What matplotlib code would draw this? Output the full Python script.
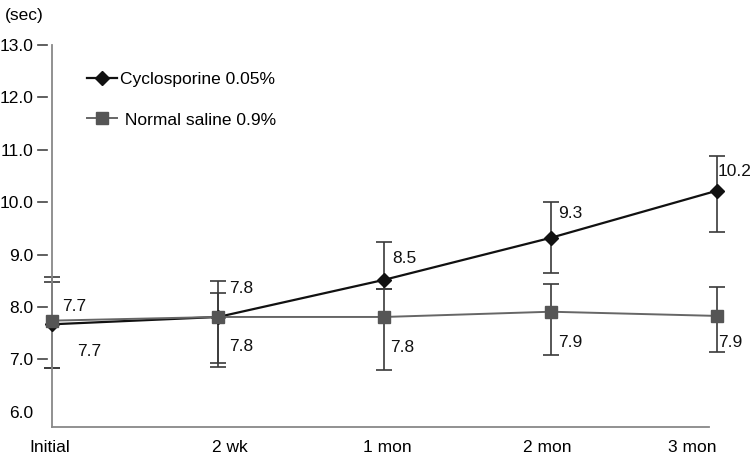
import matplotlib
matplotlib.use("Agg")
import matplotlib.pyplot as plt
import matplotlib.transforms as mtransforms
import numpy as np

# data
time_points = ["Initial", "2 wk", "1 mon", "2 mon", "3 mon"]
cyclo_mean = [7.67, 7.81, 8.52, 9.32, 10.22]
saline_mean = [7.74, 7.81, 7.81, 7.91, 7.83]
cyclo_low = [6.84, 6.86, 8.35, 8.65, 9.44]
cyclo_high = [8.58, 8.50, 9.24, 10.00, 10.89]
saline_low = [6.84, 6.94, 6.80, 7.09, 7.14]
saline_high = [8.48, 8.27, 8.35, 8.44, 8.39]
cyclo_labels = ["7.7", "7.8", "8.5", "9.3", "10.2"]
saline_labels = ["7.7", "7.8", "7.8", "7.9", "7.9"]
y_ticks = [6.0, 7.0, 8.0, 9.0, 10.0, 11.0, 12.0, 13.0]

plt.rcParams["font.family"] = ["Liberation Sans", "DejaVu Sans"]
FS = 12.5

fig = plt.figure(figsize=(7.52, 4.57), dpi=100)
ax = fig.add_axes([0.069, 0.0656, 0.8845, 0.836])

x = np.arange(len(time_points))
cyclo_mean = np.array(cyclo_mean)
saline_mean = np.array(saline_mean)

err_kw = dict(fmt="none", ecolor="#3a3a3a", elinewidth=1.2, capsize=6, capthick=1.2)
ax.errorbar(x, cyclo_mean,
            yerr=[cyclo_mean - np.array(cyclo_low), np.array(cyclo_high) - cyclo_mean],
            clip_on=False, zorder=2, **err_kw)
ax.errorbar(x, saline_mean,
            yerr=[saline_mean - np.array(saline_low), np.array(saline_high) - saline_mean],
            clip_on=False, zorder=2, **err_kw)

ax.plot(x, cyclo_mean, color="#111111", lw=1.6, marker="D", ms=7,
        mfc="#111111", mec="#111111", clip_on=False, zorder=3,
        label="Cyclosporine 0.05%")
ax.plot(x, saline_mean, color="#666666", lw=1.4, marker="s", ms=8,
        mfc="#555555", mec="#555555", clip_on=False, zorder=4,
        label=" Normal saline 0.9%")

# value labels (offsets in pixels from the point)
cyclo_off = [(10, 18), (11, 28), (8, 21), (7, 24), (1, 19)]
saline_off = [(25, -31), (11, -30), (6, -31), (7, -31), (1, -27)]
for i in range(len(x)):
    ax.annotate(cyclo_labels[i], (x[i], cyclo_mean[i]), xytext=cyclo_off[i],
                textcoords="offset pixels", ha="left", va="center",
                fontsize=FS, color="#111111", annotation_clip=False)
    ax.annotate(saline_labels[i], (x[i], saline_mean[i]), xytext=saline_off[i],
                textcoords="offset pixels", ha="left", va="center",
                fontsize=FS, color="#111111", annotation_clip=False)

ax.set_xlim(0, 4)
ax.set_ylim(5.71, 13.0)
ax.set_xticks(x)
ax.set_xticklabels(time_points, fontsize=FS)
ax.tick_params(axis="x", length=0, pad=9)
# the category labels sit a little off their points in the original
label_shift = [-2, 12, 3, -3, -25]
for lab, dx in zip(ax.get_xticklabels(), label_shift):
    lab.set_transform(lab.get_transform()
                      + mtransforms.ScaledTranslation(dx / 100, 0, fig.dpi_scale_trans))

ax.set_yticks(y_ticks)
ax.set_yticklabels([f"{v:.1f}" for v in y_ticks], fontsize=FS)
ax.tick_params(axis="y", length=0, pad=13.5)
# short dashes next to the labels, detached from the axis line
trans = mtransforms.blended_transform_factory(ax.transAxes, ax.transData)
for v in y_ticks[1:]:
    ax.plot([-14 / 665, -5 / 665], [v, v], color="#444444", lw=1.2,
            transform=trans, clip_on=False)

for side in ["top", "right"]:
    ax.spines[side].set_visible(False)
for side in ["left", "bottom"]:
    ax.spines[side].set_color("#888888")
    ax.spines[side].set_linewidth(1.3)
ax.spines["bottom"].set_bounds(0, 3.95)

ax.legend(loc="upper left", bbox_to_anchor=(0.03, 0.97), frameon=False,
          fontsize=FS, handlelength=1.7, handletextpad=0.2, labelspacing=1.45)

fig.text(0.007, 0.965, "(sec)", fontsize=FS, ha="left", va="center")

fig.savefig("out.png", dpi=100)
